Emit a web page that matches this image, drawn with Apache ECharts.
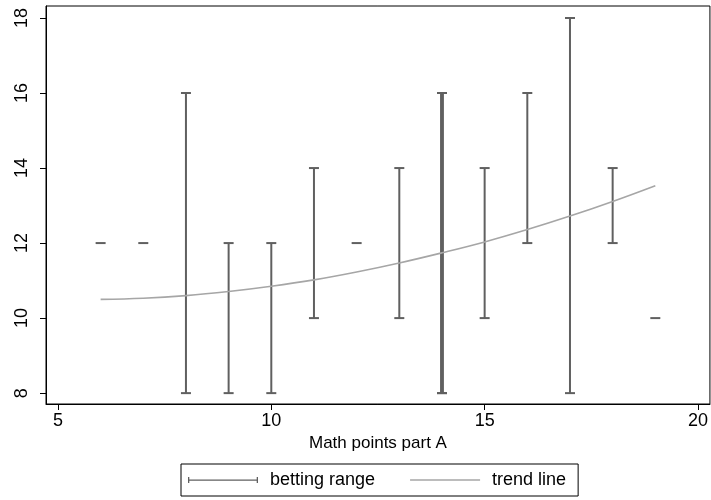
<!DOCTYPE html>
<html>
<head>
<meta charset="utf-8">
<script src="https://cdn.jsdelivr.net/npm/echarts@6/dist/echarts.min.js"></script>
<style>html,body{margin:0;padding:0;background:#fff}#c{width:711px;height:500px}</style>
</head>
<body>
<div id="c"></div>
<script>
// Error bars (betting range) per math point value
const barX    = [6, 7, 8, 9, 10, 11, 12, 13, 14, 14, 15, 16, 17, 18, 19];
const barLow  = [12, 12, 8, 8, 8, 10, 12, 10, 8, 8, 10, 12, 8, 12, 10];
const barHigh = [12, 12, 16, 12, 12, 14, 12, 14, 16, 16, 14, 16, 18, 14, 10];
// Trend line
const trendX = [6, 7, 8, 9, 10, 11, 12, 13, 14, 15, 16, 17, 18, 19];
const trendY = [10.50, 10.53, 10.60, 10.71, 10.85, 11.02, 11.23, 11.47, 11.74, 12.03, 12.36, 12.72, 13.11, 13.53];
// Axis ticks
const xTicks = [5, 10, 15, 20];
const yTicks = [8, 10, 12, 14, 16, 18];
const xTitle = 'Math points part A';
const seriesNames = ['betting range', 'trend line'];

const FONT = "'Liberation Sans', Arial, Helvetica, sans-serif";
const BAR_COLOR = '#606060';
const TREND_COLOR = '#a6a6a6';

// count overlapping identical ranges
const barData = barX.map((x, i) => {
  let n = 0;
  for (let j = 0; j < barX.length; j++) {
    if (barX[j] === x && barLow[j] === barLow[i] && barHigh[j] === barHigh[i]) n++;
  }
  return [x, barLow[i], barHigh[i], n];
});

const chart = echarts.init(document.getElementById('c'), null, {renderer: 'canvas'});
chart.setOption({
  animation: false,
  backgroundColor: '#fff',
  textStyle: {fontFamily: FONT},
  grid: {
    left: 46, right: -1, top: 6, bottom: 96,
    show: true, borderColor: '#000', borderWidth: 1, backgroundColor: '#fff'
  },
  xAxis: {
    type: 'value', min: 4.72, max: 20.28,
    name: xTitle, nameLocation: 'middle', nameGap: 27,
    nameTextStyle: {fontSize: 17, color: '#000', fontFamily: FONT},
    axisLine: {show: true, onZero: false, lineStyle: {color: '#000', width: 1}},
    axisTick: {show: true, length: 6, customValues: xTicks, lineStyle: {color: '#000'}},
    axisLabel: {customValues: xTicks, fontSize: 18, color: '#000', margin: 8, fontFamily: FONT},
    splitLine: {show: false}
  },
  yAxis: {
    type: 'value', min: 7.71, max: 18.32,
    axisLine: {show: true, onZero: false, lineStyle: {color: '#000', width: 1}},
    axisTick: {show: true, length: 6, customValues: yTicks, lineStyle: {color: '#000'}},
    axisLabel: {customValues: yTicks, fontSize: 18, color: '#000', rotate: 90, margin: 15, fontFamily: FONT},
    splitLine: {show: false}
  },
  legend: {
    left: 181, top: 464,
    orient: 'horizontal',
    backgroundColor: '#fff',
    borderColor: '#000', borderWidth: 1,
    padding: [7, 12, 7, 7],
    itemWidth: 70, itemHeight: 8, itemGap: 35,
    textStyle: {fontSize: 18, color: '#000', fontFamily: FONT, padding: [0, 0, 0, 7]},
    data: [
      {name: seriesNames[0], icon: 'path://M0,1h1.3v6h-1.3z M0,3.4h70v1.3h-70z M68.7,1h1.3v6h-1.3z', itemStyle: {color: BAR_COLOR}},
      {name: seriesNames[1], icon: 'path://M0,3.3h70v1.4h-70z', itemStyle: {color: TREND_COLOR}}
    ]
  },
  series: [
    {
      name: seriesNames[0],
      type: 'custom',
      itemStyle: {color: BAR_COLOR},
      data: barData,
      encode: {x: 0, y: [1, 2]},
      renderItem: function (params, api) {
        const x = api.value(0), lo = api.value(1), hi = api.value(2), n = api.value(3);
        const pLo = api.coord([x, lo]);
        const pHi = api.coord([x, hi]);
        const lw = n > 1 ? 3.5 : 2;
        const cap = 5;
        const style = {stroke: BAR_COLOR, lineWidth: lw, fill: null};
        const capStyle = {stroke: BAR_COLOR, lineWidth: 2, fill: null};
        const children = [];
        if (lo !== hi) {
          children.push({type: 'line', shape: {x1: pLo[0], y1: pLo[1], x2: pHi[0], y2: pHi[1]}, style: style});
          children.push({type: 'line', shape: {x1: pLo[0] - cap, y1: pLo[1], x2: pLo[0] + cap, y2: pLo[1]}, style: capStyle});
        }
        children.push({type: 'line', shape: {x1: pHi[0] - cap, y1: pHi[1], x2: pHi[0] + cap, y2: pHi[1]}, style: capStyle});
        return {type: 'group', children: children};
      },
      z: 2
    },
    {
      name: seriesNames[1],
      type: 'line',
      data: trendX.map((x, i) => [x, trendY[i]]),
      smooth: 0.4,
      symbol: 'none',
      lineStyle: {color: TREND_COLOR, width: 1.6},
      itemStyle: {color: TREND_COLOR},
      z: 3
    }
  ]
});
</script>
</body>
</html>
